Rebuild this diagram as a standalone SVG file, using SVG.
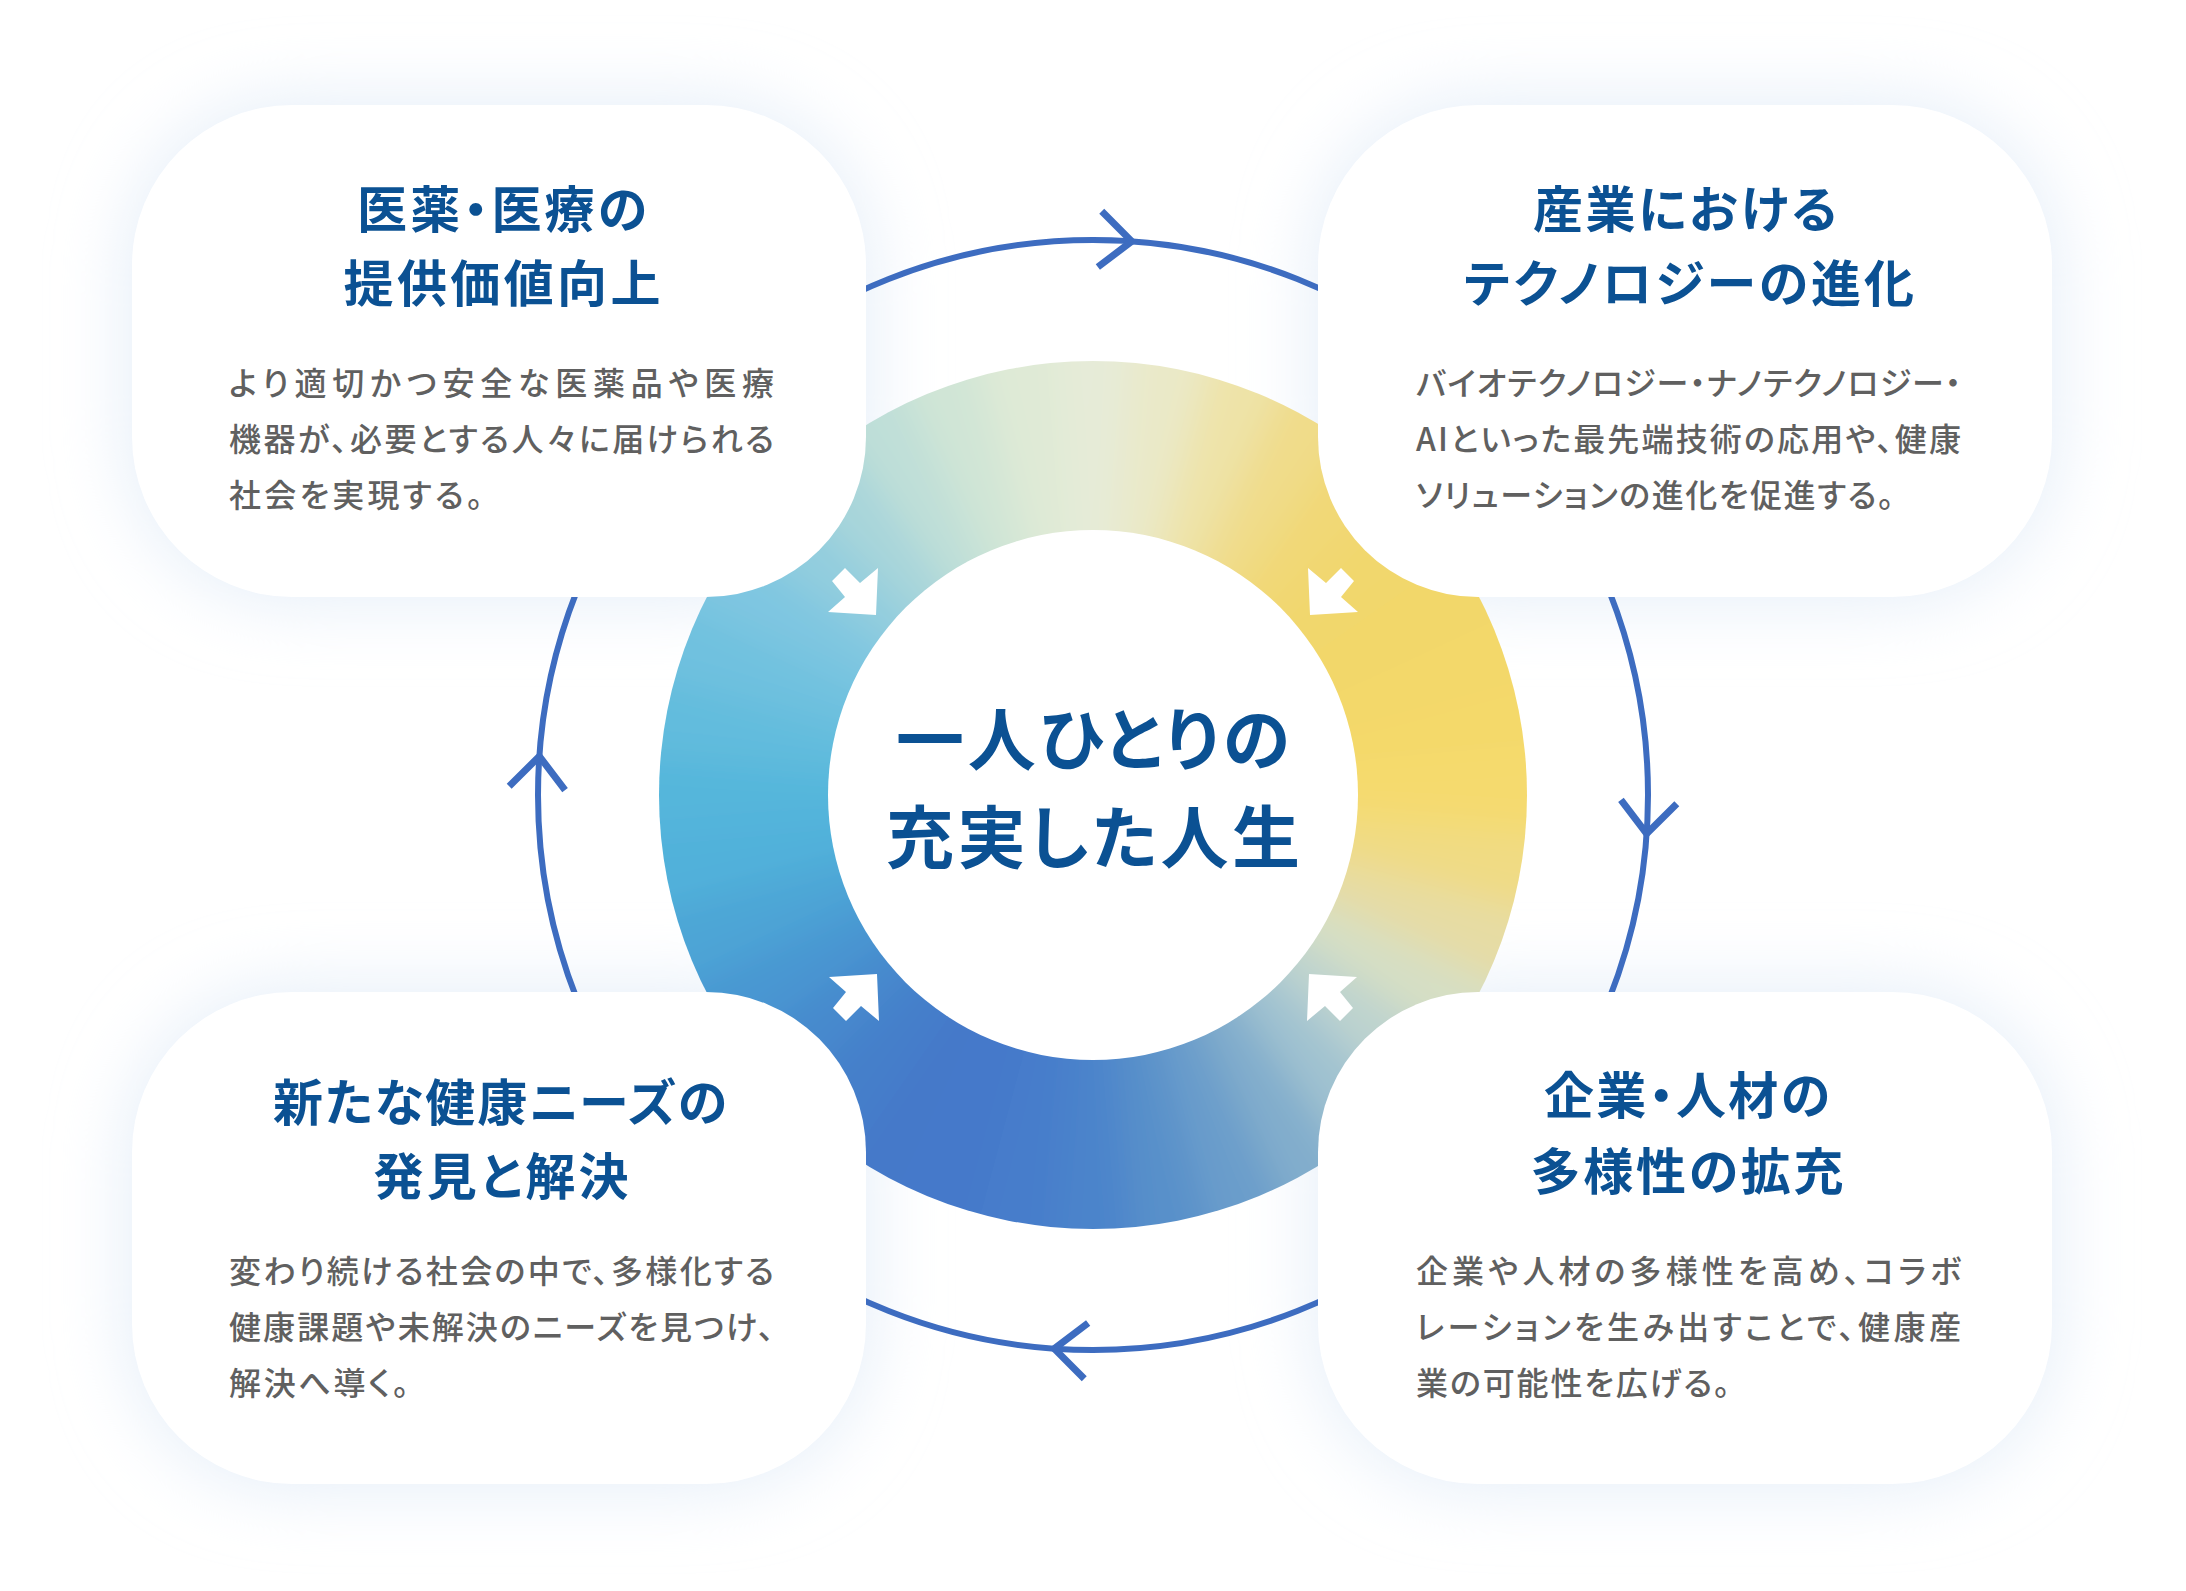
<svg xmlns="http://www.w3.org/2000/svg" width="2186" height="1591" viewBox="0 0 2186 1591">
<defs>
<style>
.title{font-family:"Noto Sans CJK JP","Noto Sans CJK SC",sans-serif;font-weight:700;font-size:50px;fill:#0b5193;text-anchor:middle;font-feature-settings:"palt";}
.body{font-family:"Noto Sans CJK JP","Noto Sans CJK SC",sans-serif;font-weight:500;font-size:32px;fill:#606060;font-feature-settings:"palt";}
.center{font-family:"Noto Sans CJK JP","Noto Sans CJK SC",sans-serif;font-weight:700;font-size:68px;fill:#0b5193;text-anchor:middle;font-feature-settings:"palt";}
.card{fill:#ffffff;}
.shadow{fill:#e2ecf8;}
.seg{fill:none;stroke-width:280;stroke-dasharray:64 2200;}
.loop{fill:none;stroke:#3d6cc0;stroke-width:6;}
.chev{fill:none;stroke:#3d6cc0;stroke-width:7;stroke-linejoin:miter;stroke-linecap:butt;}
.inarrow{fill:#ffffff;}
</style>
<filter id="soft" x="-30%" y="-30%" width="160%" height="160%"><feGaussianBlur stdDeviation="38"/></filter>
<filter id="smooth" filterUnits="userSpaceOnUse" x="500" y="200" width="1190" height="1190"><feGaussianBlur stdDeviation="18"/></filter>
<clipPath id="ringclip"><circle cx="1093" cy="795" r="434"/></clipPath>
</defs>
<rect width="2186" height="1591" fill="#ffffff"/>
<g id="shadows" filter="url(#soft)">
<rect class="shadow" x="132" y="105" width="734" height="492" rx="160"/>
<rect class="shadow" x="1318" y="105" width="734" height="492" rx="160"/>
<rect class="shadow" x="132" y="992" width="734" height="492" rx="160"/>
<rect class="shadow" x="1318" y="992" width="734" height="492" rx="160"/>
</g>
<g id="ring">
<g clip-path="url(#ringclip)">
<g filter="url(#smooth)">
<circle class="seg" cx="1093" cy="795" r="350" stroke="#e6ebd8" transform="rotate(-95 1093 795)"/>
<circle class="seg" cx="1093" cy="795" r="350" stroke="#eae9c8" transform="rotate(-85 1093 795)"/>
<circle class="seg" cx="1093" cy="795" r="350" stroke="#eee3a8" transform="rotate(-75 1093 795)"/>
<circle class="seg" cx="1093" cy="795" r="350" stroke="#f0dc8a" transform="rotate(-65 1093 795)"/>
<circle class="seg" cx="1093" cy="795" r="350" stroke="#f1d876" transform="rotate(-55 1093 795)"/>
<circle class="seg" cx="1093" cy="795" r="350" stroke="#f1d76d" transform="rotate(-45 1093 795)"/>
<circle class="seg" cx="1093" cy="795" r="350" stroke="#f2d76b" transform="rotate(-35 1093 795)"/>
<circle class="seg" cx="1093" cy="795" r="350" stroke="#f3d86b" transform="rotate(-25 1093 795)"/>
<circle class="seg" cx="1093" cy="795" r="350" stroke="#f4d96b" transform="rotate(-15 1093 795)"/>
<circle class="seg" cx="1093" cy="795" r="350" stroke="#f5da6e" transform="rotate(-5 1093 795)"/>
<circle class="seg" cx="1093" cy="795" r="350" stroke="#f0db84" transform="rotate(5 1093 795)"/>
<circle class="seg" cx="1093" cy="795" r="350" stroke="#e6dca4" transform="rotate(15 1093 795)"/>
<circle class="seg" cx="1093" cy="795" r="350" stroke="#d6dfc4" transform="rotate(25 1093 795)"/>
<circle class="seg" cx="1093" cy="795" r="350" stroke="#bdd3cf" transform="rotate(35 1093 795)"/>
<circle class="seg" cx="1093" cy="795" r="350" stroke="#a0c2d0" transform="rotate(45 1093 795)"/>
<circle class="seg" cx="1093" cy="795" r="350" stroke="#82adcc" transform="rotate(55 1093 795)"/>
<circle class="seg" cx="1093" cy="795" r="350" stroke="#6a9dcb" transform="rotate(65 1093 795)"/>
<circle class="seg" cx="1093" cy="795" r="350" stroke="#5890ca" transform="rotate(75 1093 795)"/>
<circle class="seg" cx="1093" cy="795" r="350" stroke="#4c84cb" transform="rotate(85 1093 795)"/>
<circle class="seg" cx="1093" cy="795" r="350" stroke="#477dcb" transform="rotate(95 1093 795)"/>
<circle class="seg" cx="1093" cy="795" r="350" stroke="#4479ca" transform="rotate(105 1093 795)"/>
<circle class="seg" cx="1093" cy="795" r="350" stroke="#4479c9" transform="rotate(115 1093 795)"/>
<circle class="seg" cx="1093" cy="795" r="350" stroke="#457fca" transform="rotate(125 1093 795)"/>
<circle class="seg" cx="1093" cy="795" r="350" stroke="#478acd" transform="rotate(135 1093 795)"/>
<circle class="seg" cx="1093" cy="795" r="350" stroke="#4a97d2" transform="rotate(145 1093 795)"/>
<circle class="seg" cx="1093" cy="795" r="350" stroke="#4da5d6" transform="rotate(155 1093 795)"/>
<circle class="seg" cx="1093" cy="795" r="350" stroke="#51b1da" transform="rotate(165 1093 795)"/>
<circle class="seg" cx="1093" cy="795" r="350" stroke="#55b6db" transform="rotate(175 1093 795)"/>
<circle class="seg" cx="1093" cy="795" r="350" stroke="#62bcdd" transform="rotate(185 1093 795)"/>
<circle class="seg" cx="1093" cy="795" r="350" stroke="#70c1df" transform="rotate(195 1093 795)"/>
<circle class="seg" cx="1093" cy="795" r="350" stroke="#7ec6e1" transform="rotate(205 1093 795)"/>
<circle class="seg" cx="1093" cy="795" r="350" stroke="#92cdde" transform="rotate(215 1093 795)"/>
<circle class="seg" cx="1093" cy="795" r="350" stroke="#a8d5da" transform="rotate(225 1093 795)"/>
<circle class="seg" cx="1093" cy="795" r="350" stroke="#bfdfd8" transform="rotate(235 1093 795)"/>
<circle class="seg" cx="1093" cy="795" r="350" stroke="#d0e5d6" transform="rotate(245 1093 795)"/>
<circle class="seg" cx="1093" cy="795" r="350" stroke="#dfead6" transform="rotate(255 1093 795)"/>
</g>
</g>
<circle cx="1093" cy="795" r="265" fill="#ffffff"/>
</g>
<g id="connectors">
<circle class="loop" cx="1093" cy="795" r="555"/>
<path class="chev" d="M1061,212 L1093,240 L1061,268" transform="rotate(4 1093 795)"/>
<path class="chev" d="M1061,212 L1093,240 L1061,268" transform="rotate(94 1093 795)"/>
<path class="chev" d="M1061,212 L1093,240 L1061,268" transform="rotate(184 1093 795)"/>
<path class="chev" d="M1061,212 L1093,240 L1061,268" transform="rotate(274 1093 795)"/>
<polygon class="inarrow" points="876,615 828,612 845,597 832,581 845,568 860,583 878,568"/>
<polygon class="inarrow" points="1310,615 1358,612 1341,597 1354,581 1341,568 1326,583 1308,568"/>
<polygon class="inarrow" points="877,974 829,977 846,992 833,1008 846,1021 861,1006 879,1021"/>
<polygon class="inarrow" points="1309,974 1357,977 1340,992 1353,1008 1340,1021 1325,1006 1307,1021"/>
</g>
<g id="card-medical">
<rect class="card" x="132" y="105" width="734" height="492" rx="160"/>
<text class="title" x="502" y="228" textLength="290" lengthAdjust="spacing">医薬・医療の</text>
<text class="title" x="502" y="302" textLength="317" lengthAdjust="spacing">提供価値向上</text>
<text class="body" x="229" y="395" textLength="545" lengthAdjust="spacing">より適切かつ安全な医薬品や医療</text>
<text class="body" x="229" y="451" textLength="545" lengthAdjust="spacing">機器が、必要とする人々に届けられる</text>
<text class="body" x="229" y="507" textLength="254" lengthAdjust="spacing">社会を実現する。</text>
</g>
<g id="card-technology">
<rect class="card" x="1318" y="105" width="734" height="492" rx="160"/>
<text class="title" x="1685" y="228" textLength="304" lengthAdjust="spacing">産業における</text>
<text class="title" x="1689" y="302" textLength="450" lengthAdjust="spacing">テクノロジーの進化</text>
<text class="body" x="1416" y="395" textLength="545" lengthAdjust="spacing">バイオテクノロジー・ナノテクノロジー・</text>
<text class="body" x="1416" y="451" textLength="545" lengthAdjust="spacing">AIといった最先端技術の応用や、健康</text>
<text class="body" x="1416" y="507" textLength="478" lengthAdjust="spacing">ソリューションの進化を促進する。</text>
</g>
<g id="card-needs">
<rect class="card" x="132" y="992" width="734" height="492" rx="160"/>
<text class="title" x="500" y="1121" textLength="454" lengthAdjust="spacing">新たな健康ニーズの</text>
<text class="title" x="501" y="1195" textLength="255" lengthAdjust="spacing">発見と解決</text>
<text class="body" x="229" y="1283" textLength="545" lengthAdjust="spacing">変わり続ける社会の中で、多様化する</text>
<text class="body" x="229" y="1339" textLength="545" lengthAdjust="spacing">健康課題や未解決のニーズを見つけ、</text>
<text class="body" x="229" y="1395" textLength="180" lengthAdjust="spacing">解決へ導く。</text>
</g>
<g id="card-diversity">
<rect class="card" x="1318" y="992" width="734" height="492" rx="160"/>
<text class="title" x="1687" y="1114" textLength="286" lengthAdjust="spacing">企業・人材の</text>
<text class="title" x="1687" y="1190" textLength="313" lengthAdjust="spacing">多様性の拡充</text>
<text class="body" x="1416" y="1283" textLength="545" lengthAdjust="spacing">企業や人材の多様性を高め、コラボ</text>
<text class="body" x="1416" y="1339" textLength="545" lengthAdjust="spacing">レーションを生み出すことで、健康産</text>
<text class="body" x="1416" y="1395" textLength="314" lengthAdjust="spacing">業の可能性を広げる。</text>
</g>
<g id="center">
<text class="center" x="1093" y="765" textLength="394" lengthAdjust="spacing">一人ひとりの</text>
<text class="center" x="1093" y="863" textLength="414" lengthAdjust="spacing">充実した人生</text>
</g>
</svg>
